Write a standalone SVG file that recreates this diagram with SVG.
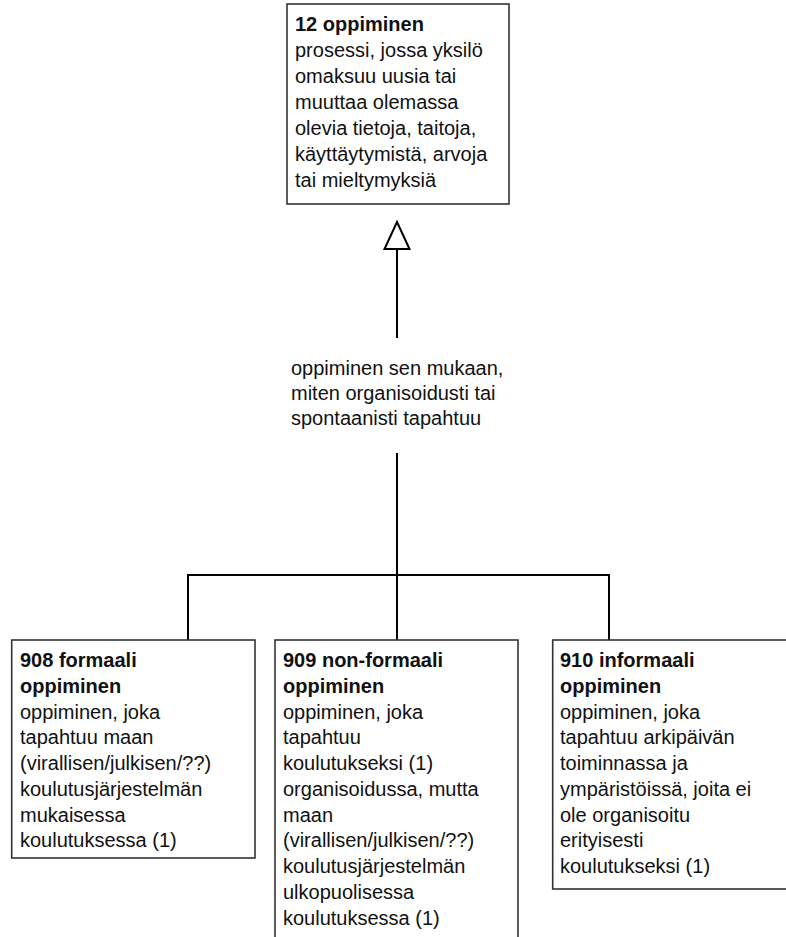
<svg xmlns="http://www.w3.org/2000/svg" width="786" height="937" viewBox="0 0 786 937">
<style>
.box{fill:#fff;stroke:#333;stroke-width:1.6}
.t{font-family:"Liberation Sans",Arial,sans-serif;font-size:20px;fill:#111}
.b{font-weight:bold}
.c{fill:none;stroke:#000;stroke-width:2}
</style>
<rect width="786" height="937" fill="#fff"/>
<g id="connectors">
<line class="c" x1="397" y1="249" x2="397" y2="338"/>
<polygon points="397,222 384.5,249 409.5,249" fill="#fff" stroke="#000" stroke-width="2"/>
<polyline class="c" points="397,453 397,640"/>
<polyline class="c" points="188,640 188,575 609,575 609,640"/>
<g id="label" class="t">
<text x="291" y="375">oppiminen sen mukaan,</text>
<text x="291" y="400">miten organisoidusti tai</text>
<text x="291" y="425">spontaanisti tapahtuu</text>
</g>
</g>
<g id="n12">
<rect class="box" x="287" y="4" width="222" height="200"/>
<g class="t">
<text x="295" y="31" class="b">12 oppiminen</text>
<text x="295" y="57">prosessi, jossa yksilö</text>
<text x="295" y="83">omaksuu uusia tai</text>
<text x="295" y="109">muuttaa olemassa</text>
<text x="295" y="135">olevia tietoja, taitoja,</text>
<text x="295" y="161">käyttäytymistä, arvoja</text>
<text x="295" y="187">tai mieltymyksiä</text>
</g>
</g>
<g id="n908">
<rect class="box" x="11.7" y="640" width="243.3" height="218"/>
<g class="t">
<text x="20" y="667" class="b">908 formaali</text>
<text x="20" y="693" class="b">oppiminen</text>
<text x="20" y="719">oppiminen, joka</text>
<text x="20" y="744">tapahtuu maan</text>
<text x="20" y="770">(virallisen/julkisen/??)</text>
<text x="20" y="796">koulutusjärjestelmän</text>
<text x="20" y="822">mukaisessa</text>
<text x="20" y="847">koulutuksessa (1)</text>
</g>
</g>
<g id="n909">
<rect class="box" x="275" y="640" width="243" height="310"/>
<g class="t">
<text x="283" y="667" class="b">909 non-formaali</text>
<text x="283" y="693" class="b">oppiminen</text>
<text x="283" y="719">oppiminen, joka</text>
<text x="283" y="744">tapahtuu</text>
<text x="283" y="770">koulutukseksi (1)</text>
<text x="283" y="796">organisoidussa, mutta</text>
<text x="283" y="822">maan</text>
<text x="283" y="847">(virallisen/julkisen/??)</text>
<text x="283" y="873">koulutusjärjestelmän</text>
<text x="283" y="899">ulkopuolisessa</text>
<text x="283" y="925">koulutuksessa (1)</text>
</g>
</g>
<g id="n910">
<rect class="box" x="552.7" y="640" width="260" height="249"/>
<g class="t">
<text x="560" y="667" class="b">910 informaali</text>
<text x="560" y="693" class="b">oppiminen</text>
<text x="560" y="719">oppiminen, joka</text>
<text x="560" y="744">tapahtuu arkipäivän</text>
<text x="560" y="770">toiminnassa ja</text>
<text x="560" y="796">ympäristöissä, joita ei</text>
<text x="560" y="822">ole organisoitu</text>
<text x="560" y="847">erityisesti</text>
<text x="560" y="873">koulutukseksi (1)</text>
</g>
</g>
</svg>
